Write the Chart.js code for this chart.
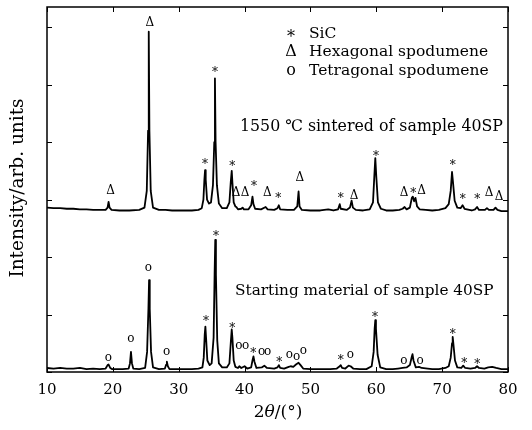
<!DOCTYPE html>
<html>
<head>
<meta charset="utf-8">
<script src="https://cdn.jsdelivr.net/npm/chart.js@4.4.1/dist/chart.umd.min.js"></script>
<style>
  html, body { margin: 0; padding: 0; background: #fff; }
  canvas { display: block; }
</style>
</head>
<body>
<canvas id="xrdChart" width="532" height="430"></canvas>
<script>
// 2theta positions and intensities (arb. units, frame = 0..6.35)
const sinteredX = [10.0, 11.0, 12.0, 13.0, 14.0, 15.0, 16.0, 17.0, 18.0, 18.9, 19.2, 19.35, 19.5, 19.8, 21.0, 22.5,
  24.0, 24.8, 25.15, 25.35, 25.45, 25.55, 25.75, 26.1, 27.0, 28.0, 29.0, 30.0, 31.0, 32.0, 33.0, 33.5,
  33.75, 33.9, 34.0, 34.1, 34.3, 34.6, 34.9, 35.2, 35.4, 35.5, 35.6, 35.8, 36.1, 36.6, 37.3, 37.7,
  37.9, 38.05, 38.15, 38.35, 38.6, 38.75, 39.0, 39.5, 39.7, 39.9, 40.6, 41.0, 41.2, 41.35, 41.6, 42.5,
  43.2, 43.5, 44.5, 45.0, 45.2, 45.4, 46.5, 47.5, 48.0, 48.2, 48.35, 48.7, 50.0, 51.5, 52.7, 53.5,
  54.2, 54.45, 54.6, 55.5, 56.0, 56.25, 56.45, 56.9, 58.0, 59.0, 59.5, 59.7, 59.85, 60.0, 60.25, 60.7,
  61.5, 62.5, 63.5, 64.0, 64.3, 64.6, 65.1, 65.4, 65.55, 65.75, 65.95, 66.2, 66.6, 67.5, 68.5, 69.5,
  70.5, 71.0, 71.3, 71.5, 71.65, 71.9, 72.3, 72.8, 73.1, 73.4, 74.5, 75.0, 75.3, 75.6, 76.5, 76.8,
  77.1, 77.8, 78.1, 78.4, 79.0, 80.0];
const sinteredY = [2.86, 2.85, 2.85, 2.84, 2.84, 2.83, 2.83, 2.82, 2.82, 2.82, 2.86, 2.96, 2.86, 2.82, 2.81, 2.81,
  2.82, 2.86, 3.15, 4.2, 5.92, 4.2, 3.15, 2.86, 2.82, 2.82, 2.81, 2.81, 2.81, 2.81, 2.82, 2.85,
  3.0, 3.35, 3.51, 3.35, 3.0, 2.93, 2.95, 3.25, 4.0, 5.11, 4.0, 3.25, 2.93, 2.85, 2.85, 2.95,
  3.3, 3.50, 3.3, 2.95, 2.88, 2.87, 2.83, 2.84, 2.86, 2.83, 2.83, 2.9, 3.05, 2.92, 2.84, 2.83,
  2.87, 2.83, 2.82, 2.85, 2.9, 2.83, 2.82, 2.82, 2.88, 3.14, 2.88, 2.82, 2.81, 2.81, 2.83, 2.81,
  2.83, 2.92, 2.84, 2.82, 2.86, 2.98, 2.86, 2.82, 2.81, 2.83, 2.95, 3.4, 3.72, 3.4, 2.95, 2.84,
  2.81, 2.81, 2.82, 2.84, 2.87, 2.83, 2.86, 3.03, 3.05, 2.97, 3.03, 2.88, 2.83, 2.82, 2.81, 2.82,
  2.85, 2.92, 3.15, 3.48, 3.3, 2.98, 2.86, 2.85, 2.9, 2.84, 2.81, 2.83, 2.87, 2.82, 2.82, 2.85,
  2.82, 2.82, 2.86, 2.82, 2.80, 2.80];

const startingX = [10.0, 11.0, 12.0, 13.0, 14.0, 15.0, 16.0, 17.0, 18.0, 18.9, 19.2, 19.35, 19.6, 19.9, 20.5, 21.5,
  22.4, 22.6, 22.75, 22.9, 23.1, 24.0, 24.9, 25.2, 25.4, 25.5, 25.6, 25.8, 26.1, 27.0, 27.9, 28.1,
  28.2, 28.35, 28.6, 30.0, 31.0, 32.0, 33.0, 33.6, 33.8, 33.95, 34.05, 34.15, 34.35, 34.7, 35.0, 35.3,
  35.45, 35.55, 35.65, 35.85, 36.1, 36.6, 37.3, 37.7, 37.9, 38.05, 38.15, 38.35, 38.6, 39.0, 39.2, 39.5,
  40.0, 40.4, 41.0, 41.2, 41.35, 41.5, 41.8, 42.6, 43.0, 43.4, 44.5, 45.0, 45.2, 45.4, 46.0, 46.7,
  47.0, 47.4, 47.8, 48.2, 48.5, 48.9, 50.0, 51.0, 52.0, 53.0, 54.0, 54.45, 54.6, 54.8, 55.3, 55.8,
  56.1, 56.5, 57.5, 58.5, 59.3, 59.6, 59.75, 59.85, 59.95, 60.2, 60.6, 61.5, 62.5, 63.3, 64.0, 64.6,
  65.1, 65.4, 65.5, 65.65, 66.0, 66.5, 66.9, 67.8, 68.5, 69.5, 70.5, 71.0, 71.3, 71.5, 71.6, 71.7,
  71.95, 72.3, 72.9, 73.2, 73.5, 74.3, 75.0, 75.3, 75.6, 76.4, 77.0, 77.6, 78.2, 79.0, 80.0];
const startingY = [0.07, 0.06, 0.07, 0.06, 0.06, 0.07, 0.05, 0.06, 0.05, 0.06, 0.12, 0.13, 0.07, 0.05, 0.05, 0.05,
  0.06, 0.15, 0.35, 0.15, 0.06, 0.05, 0.07, 0.35, 1.1, 1.60, 1.1, 0.35, 0.08, 0.05, 0.06, 0.13,
  0.18, 0.10, 0.05, 0.05, 0.05, 0.05, 0.06, 0.08, 0.25, 0.65, 0.79, 0.6, 0.2, 0.12, 0.15, 0.6,
  1.7, 2.30, 1.7, 0.55, 0.15, 0.08, 0.08, 0.15, 0.5, 0.74, 0.6, 0.2, 0.09, 0.07, 0.1, 0.07,
  0.1, 0.06, 0.08, 0.2, 0.27, 0.18, 0.07, 0.08, 0.11, 0.07, 0.06, 0.08, 0.12, 0.07, 0.06, 0.09,
  0.1, 0.09, 0.13, 0.16, 0.12, 0.06, 0.05, 0.05, 0.05, 0.05, 0.06, 0.1, 0.12, 0.07, 0.06, 0.11,
  0.1, 0.06, 0.05, 0.05, 0.1, 0.35, 0.75, 0.90, 0.75, 0.3, 0.08, 0.05, 0.05, 0.06, 0.07, 0.08,
  0.12, 0.27, 0.31, 0.2, 0.08, 0.09, 0.07, 0.06, 0.05, 0.05, 0.07, 0.1, 0.25, 0.5, 0.61, 0.5,
  0.2, 0.08, 0.07, 0.11, 0.07, 0.06, 0.07, 0.1, 0.07, 0.06, 0.08, 0.09, 0.07, 0.05, 0.05];

// phase marks above the peaks
const sinteredMarkX = [19.67, 25.6, 33.99, 35.51, 38.14, 38.70, 40.07, 41.43, 43.45, 45.12, 48.41,
  54.59, 56.61, 59.95, 64.21, 65.62, 66.89, 71.6, 73.12, 75.34, 77.11, 78.63];
const sinteredMarkY = [3.15, 6.07, 3.65, 5.25, 3.62, 3.12, 3.12, 3.27, 3.12, 3.06, 3.37,
  3.07, 3.07, 3.80, 3.12, 3.15, 3.15, 3.64, 3.04, 3.04, 3.11, 3.04];
const sinteredMarkSym = ['Δ', 'Δ', '*', '*', '*', 'Δ', 'Δ', '*', 'Δ', '*', 'Δ',
  '*', 'Δ', '*', 'Δ', '*', 'Δ', '*', '*', '*', 'Δ', 'Δ'];

const startingMarkX = [19.31, 22.75, 25.39, 28.17, 34.14, 35.66, 38.14, 39.15, 40.17, 41.33, 42.6, 43.5,
  45.27, 46.79, 47.91, 48.92, 54.59, 56.05, 59.8, 64.2, 66.64, 71.6, 73.37, 75.34];
const startingMarkY = [0.23, 0.56, 1.79, 0.34, 0.93, 2.40, 0.81, 0.44, 0.44, 0.37, 0.34, 0.34,
  0.21, 0.28, 0.25, 0.35, 0.24, 0.28, 0.99, 0.18, 0.18, 0.69, 0.19, 0.18];
const startingMarkSym = ['o', 'o', 'o', 'o', '*', '*', '*', 'o', 'o', '*', 'o', 'o',
  '*', 'o', 'o', 'o', '*', 'o', '*', 'o', 'o', '*', '*', '*'];

const xTicks = [10, 20, 30, 40, 50, 60, 70, 80];
const yTicks = [0, 1, 2, 3, 4, 5, 6];

const legendSymbols = ['*', 'Δ', 'o'];
const legendLabels = ['SiC', 'Hexagonal spodumene', 'Tetragonal spodumene'];
const sinteredCaption = '1550 ℃ sintered of sample 40SP';
const startingCaption = 'Starting material of sample 40SP';

const SERIF = '"DejaVu Serif", "Liberation Serif", serif';

function toPoints(xs, ys) {
  return xs.map((x, i) => ({ x: x, y: ys[i] }));
}

// glyph centring offsets (px) for the small phase marks
const symbolShift = { '*': 3, 'Δ': 0, 'o': -1 };

function drawMarks(ctx, xScale, yScale, xs, ys, syms, size) {
  ctx.font = size + 'px ' + SERIF;
  ctx.textAlign = 'center';
  ctx.textBaseline = 'middle';
  xs.forEach((v, i) => {
    const px = xScale.getPixelForValue(v);
    const py = yScale.getPixelForValue(ys[i]) + symbolShift[syms[i]] * size / 12;
    ctx.fillText(syms[i], px, py);
  });
}

const overlay = {
  id: 'overlay',
  afterDatasetsDraw(chart) {
    const ctx = chart.ctx;
    const a = chart.chartArea;
    const xs = chart.scales.x;
    const ys = chart.scales.y;
    ctx.save();
    ctx.fillStyle = '#000';
    ctx.strokeStyle = '#000';

    // frame
    ctx.lineWidth = 1.5;
    ctx.strokeRect(a.left, a.top, a.right - a.left, a.bottom - a.top);

    // inward ticks on all four sides
    ctx.lineWidth = 1;
    ctx.beginPath();
    xTicks.forEach(v => {
      const px = Math.round(xs.getPixelForValue(v)) + 0.5;
      ctx.moveTo(px, a.bottom); ctx.lineTo(px, a.bottom - 5);
      ctx.moveTo(px, a.top); ctx.lineTo(px, a.top + 5);
    });
    yTicks.forEach(v => {
      const py = Math.round(ys.getPixelForValue(v)) + 0.5;
      ctx.moveTo(a.left, py); ctx.lineTo(a.left + 5, py);
      ctx.moveTo(a.right, py); ctx.lineTo(a.right - 5, py);
    });
    ctx.stroke();

    // phase marks
    drawMarks(ctx, xs, ys, sinteredMarkX, sinteredMarkY, sinteredMarkSym, 12);
    drawMarks(ctx, xs, ys, startingMarkX, startingMarkY, startingMarkSym, 12);

    // legend
    const rows = [37.5, 56, 75];
    legendLabels.forEach((label, i) => {
      ctx.font = '16px ' + SERIF;
      ctx.textAlign = 'center';
      ctx.textBaseline = 'alphabetic';
      const sym = legendSymbols[i];
      ctx.fillText(sym, 291, rows[i] + (sym === '*' ? 4 : 0));
      ctx.font = '15.5px ' + SERIF;
      ctx.textAlign = 'left';
      ctx.fillText(label, 309, rows[i]);
    });

    // captions
    ctx.font = '15.8px ' + SERIF;
    ctx.textAlign = 'left';
    ctx.fillText(sinteredCaption, 240, 131);
    ctx.font = '15.3px ' + SERIF;
    ctx.fillText(startingCaption, 235, 295);

    // y axis title
    ctx.save();
    ctx.translate(18, 188);
    ctx.rotate(-Math.PI / 2);
    ctx.font = '18.5px ' + SERIF;
    ctx.textAlign = 'center';
    ctx.textBaseline = 'middle';
    ctx.fillText('Intensity/arb. units', 0, 0);
    ctx.restore();

    // x axis title: 2θ/(°) with italic theta
    const parts = [['2', ''], ['θ', 'italic '], ['/(°)', '']];
    let total = 0;
    parts.forEach(p => { ctx.font = p[1] + '17px ' + SERIF; total += ctx.measureText(p[0]).width; });
    let cx = 278 - total / 2;
    ctx.textAlign = 'left';
    ctx.textBaseline = 'alphabetic';
    parts.forEach(p => {
      ctx.font = p[1] + '17px ' + SERIF;
      ctx.fillText(p[0], cx, 417);
      cx += ctx.measureText(p[0]).width;
    });

    ctx.restore();
  }
};

new Chart(document.getElementById('xrdChart').getContext('2d'), {
  type: 'line',
  data: {
    datasets: [
      {
        label: 'Sintered 1550',
        data: toPoints(sinteredX, sinteredY),
        borderColor: '#000',
        borderWidth: 1.8,
        borderJoinStyle: 'round',
        pointRadius: 0,
        tension: 0,
        fill: false
      },
      {
        label: 'Starting material',
        data: toPoints(startingX, startingY),
        borderColor: '#000',
        borderWidth: 1.8,
        borderJoinStyle: 'round',
        pointRadius: 0,
        tension: 0,
        fill: false
      }
    ]
  },
  options: {
    responsive: false,
    animation: false,
    devicePixelRatio: 1,
    layout: { padding: { left: 0, top: 7, right: 24, bottom: 0 } },
    plugins: {
      legend: { display: false },
      tooltip: { enabled: false }
    },
    scales: {
      x: {
        type: 'linear',
        min: 10,
        max: 80,
        grid: { display: false, drawTicks: false },
        border: { display: false },
        ticks: {
          stepSize: 10,
          padding: 9,
          color: '#000',
          font: { family: SERIF, size: 15 }
        },
        afterFit: s => { s.height = 58; }
      },
      y: {
        min: 0,
        max: 6.35,
        grid: { display: false, drawTicks: false },
        border: { display: false },
        ticks: { display: false },
        afterFit: s => { s.width = 47; }
      }
    }
  },
  plugins: [overlay]
});
</script>
</body>
</html>
